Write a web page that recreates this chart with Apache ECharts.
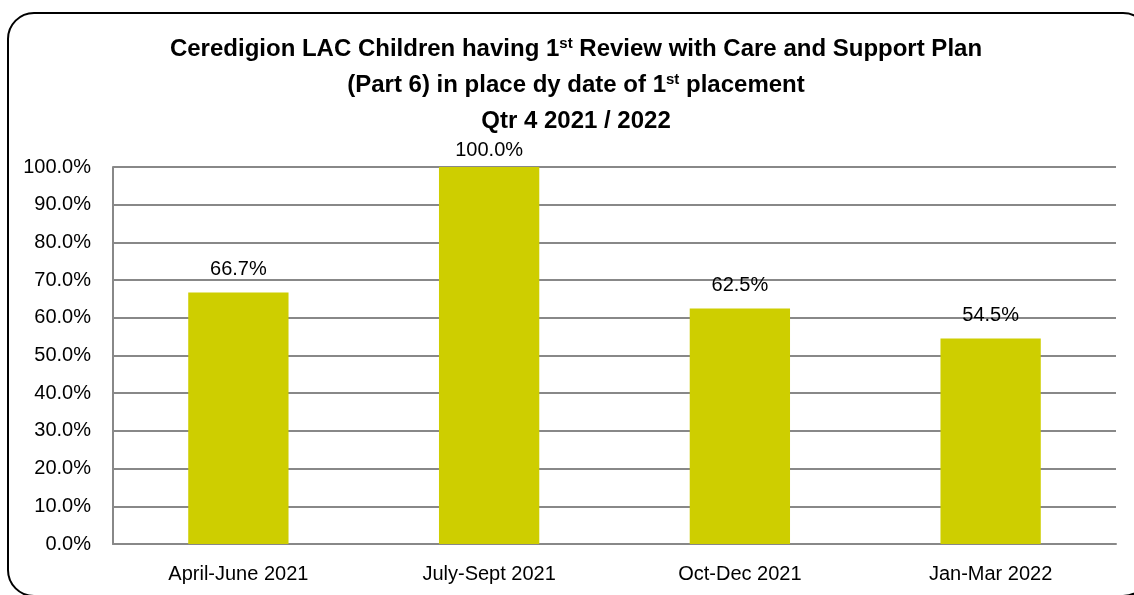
<!DOCTYPE html>
<html>
<head>
<meta charset="utf-8">
<script src="https://cdn.jsdelivr.net/npm/echarts@6/dist/echarts.min.js"></script>
<style>html,body{margin:0;padding:0;background:#fff;}#c{width:1134px;height:595px;}</style>
</head>
<body>
<div id="c"></div>
<script>
const categories = ['April-June 2021', 'July-Sept 2021', 'Oct-Dec 2021', 'Jan-Mar 2022'];
const values = [66.7, 100.0, 62.5, 54.5];
const yTicks = { min: 0, max: 100, interval: 10 };

const chart = echarts.init(document.getElementById('c'), null, { renderer: 'canvas' });
const F = '"Liberation Sans", Arial, sans-serif';
const bold = { fontFamily: F, fontWeight: 'bold', fontSize: 24, color: '#000', lineHeight: 36 };
chart.setOption({
  animation: false,
  backgroundColor: '#fff',
  title: {
    left: 'center',
    top: 26,
    text: '{p|Ceredigion LAC Children having 1}{s|st}{b| Review with Care and Support Plan}\n{p|(Part 6) in place dy date of 1}{s|st}{b| placement}\n{p|Qtr 4 2021 / 2022}',
    textStyle: {
      rich: {
        b: bold,
        p: Object.assign({}, bold, { padding: [0, 0, 0, 18] }),
        s: { fontFamily: F, fontWeight: 'bold', fontSize: 15, color: '#000', lineHeight: 36, padding: [0, 0, 11, 0] }
      }
    }
  },
  graphic: [{
    type: 'rect',
    shape: { x: 8, y: 13, width: 1141, height: 583, r: 26 },
    style: { fill: 'none', stroke: '#000', lineWidth: 2 },
    silent: true
  }],
  grid: { left: 113, right: 18, top: 167, bottom: 51, containLabel: false },
  xAxis: {
    type: 'category',
    data: categories,
    axisLine: { show: true, lineStyle: { color: '#888', width: 2 } },
    axisTick: { show: false },
    axisLabel: { fontFamily: F, fontSize: 20, color: '#000', margin: 20 },
    splitLine: { show: false }
  },
  yAxis: {
    type: 'value',
    min: yTicks.min, max: yTicks.max, interval: yTicks.interval,
    axisLine: { show: true, lineStyle: { color: '#888', width: 2 } },
    axisTick: { show: false },
    axisLabel: { fontFamily: F, fontSize: 20, color: '#000', margin: 22, formatter: v => v.toFixed(1) + '%' },
    splitLine: { show: true, lineStyle: { color: '#888', width: 2 } }
  },
  series: [{
    type: 'bar',
    data: values.map(v => v >= yTicks.max ? { value: v, label: { distance: 7 } } : v),
    barWidth: '40%',
    itemStyle: { color: '#CECE00' },
    label: {
      show: true, position: 'top', distance: 13,
      fontFamily: F, fontSize: 20, color: '#000',
      formatter: p => p.value.toFixed(1) + '%'
    }
  }]
});
</script>
</body>
</html>
